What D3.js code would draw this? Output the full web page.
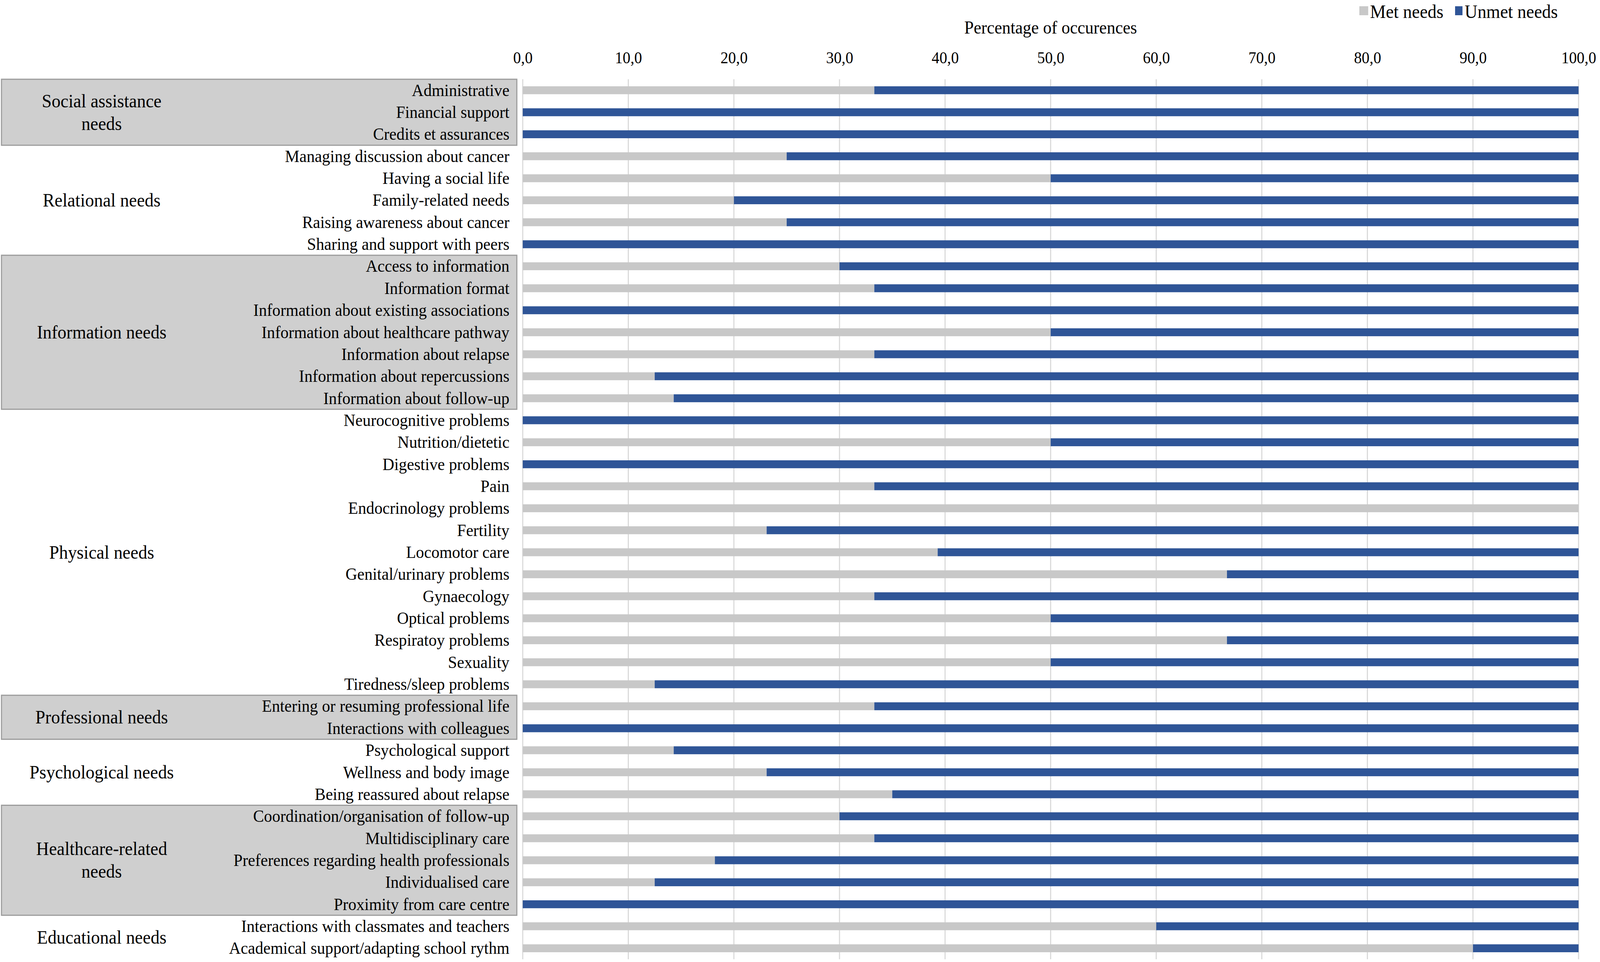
<!DOCTYPE html>
<html>
<head>
<meta charset="utf-8">
<script src="https://cdn.jsdelivr.net/npm/d3@7"></script>
<style>
  html, body { margin: 0; padding: 0; background: #fff; overflow: hidden; }
  #canvas { display: block; width: 100vw; height: 100vh; }
  svg text { font-family: "Liberation Serif", "Times New Roman", serif; fill: #000; }
</style>
</head>
<body>
<svg id="canvas" viewBox="0 0 4328 2464" preserveAspectRatio="none"></svg>
<script>
// rows, top to bottom
const needs = [
  "Administrative", "Financial support", "Credits et assurances",
  "Managing discussion about cancer", "Having a social life", "Family-related needs",
  "Raising awareness about cancer", "Sharing and support with peers",
  "Access to information", "Information format", "Information about existing associations",
  "Information about healthcare pathway", "Information about relapse",
  "Information about repercussions", "Information about follow-up",
  "Neurocognitive problems", "Nutrition/dietetic", "Digestive problems", "Pain",
  "Endocrinology problems", "Fertility", "Locomotor care", "Genital/urinary problems",
  "Gynaecology", "Optical problems", "Respiratoy problems", "Sexuality",
  "Tiredness/sleep problems",
  "Entering or resuming professional life", "Interactions with colleagues",
  "Psychological support", "Wellness and body image", "Being reassured about relapse",
  "Coordination/organisation of follow-up", "Multidisciplinary care",
  "Preferences regarding health professionals", "Individualised care",
  "Proximity from care centre",
  "Interactions with classmates and teachers", "Academical support/adapting school rythm"
];

const metNeeds = [
  33.3, 0, 0,
  25.0, 50.0, 20.0, 25.0, 0,
  30.0, 33.3, 0, 50.0, 33.3, 12.5, 14.3,
  0, 50.0, 0, 33.3, 100, 23.1, 39.3, 66.7, 33.3, 50.0, 66.7, 50.0, 12.5,
  33.3, 0,
  14.3, 23.1, 35.0,
  30.0, 33.3, 18.2, 12.5, 0,
  60.0, 90.0
];

const unmetNeeds = [
  66.7, 100, 100,
  75.0, 50.0, 80.0, 75.0, 100,
  70.0, 66.7, 100, 50.0, 66.7, 87.5, 85.7,
  100, 50.0, 100, 66.7, 0, 76.9, 60.7, 33.3, 66.7, 50.0, 33.3, 50.0, 87.5,
  66.7, 100,
  85.7, 76.9, 65.0,
  70.0, 66.7, 81.8, 87.5, 100,
  40.0, 10.0
];

const groupNames = [
  ["Social assistance", "needs"], ["Relational needs"], ["Information needs"],
  ["Physical needs"], ["Professional needs"], ["Psychological needs"],
  ["Healthcare-related", "needs"], ["Educational needs"]
];
const groupSizes = [3, 5, 7, 13, 2, 3, 5, 2];
const groupShaded = [true, false, true, false, true, false, true, false];

const xTicks = [0, 10, 20, 30, 40, 50, 60, 70, 80, 90, 100];
const seriesNames = ["Met needs", "Unmet needs"];
const colors = ["#c8c8c8", "#2f5597"];

const svg = d3.select("#canvas");
const plotTop = 203, plotBottom = 2457;

const x = d3.scaleLinear().domain([0, 100]).range([1414, 4270]);
const y = d3.scaleBand().domain(needs).range([plotTop, plotBottom])
  .paddingInner(0.64).paddingOuter(0.32);
const step = y.step();

// group boxes and names
let start = 0;
const groups = groupSizes.map((n, i) => {
  const g = {name: groupNames[i], start: start, end: start + n, shaded: groupShaded[i]};
  start += n;
  return g;
});

svg.append("g").selectAll("rect")
  .data(groups.filter(g => g.shaded))
  .join("rect")
  .attr("x", 4)
  .attr("y", d => plotTop + d.start * step)
  .attr("width", 1394)
  .attr("height", d => (d.end - d.start) * step)
  .attr("fill", "#cfcfcf")
  .attr("stroke", "#9c9c9c")
  .attr("stroke-width", 3);

const glab = svg.append("g").selectAll("text")
  .data(groups)
  .join("text")
  .attr("x", 275)
  .attr("y", d => plotTop + (d.start + d.end) / 2 * step)
  .attr("text-anchor", "middle")
  .style("font-size", "48px");
glab.selectAll("tspan")
  .data(d => d.name.map((t, k) => ({t: t, k: k, n: d.name.length})))
  .join("tspan")
  .attr("x", 275)
  .attr("dy", d => d.k === 0 ? ((-(d.n - 1) * 29) + 16) + "px" : "58px")
  .text(d => d.t);

// gridlines
svg.append("g").selectAll("line")
  .data(xTicks)
  .join("line")
  .attr("x1", d => x(d)).attr("x2", d => x(d))
  .attr("y1", plotTop).attr("y2", plotBottom)
  .attr("stroke", "#d9d9d9")
  .attr("stroke-width", 3);

// top axis
const axis = svg.append("g")
  .attr("transform", "translate(0,170)")
  .call(d3.axisTop(x).tickValues(xTicks).tickSize(0).tickPadding(8)
    .tickFormat(d => d.toFixed(1).replace(".", ",")));
axis.select(".domain").remove();
axis.selectAll("text")
  .style("font-family", "Liberation Serif")
  .style("font-size", "42px")
  .attr("fill", "#000");

svg.append("text")
  .attr("x", (x(0) + x(100)) / 2)
  .attr("y", 86)
  .attr("text-anchor", "middle")
  .style("font-size", "46px")
  .text("Percentage of occurences");

// bars
const rows = needs.map((n, i) => ({need: n, met: metNeeds[i], unmet: unmetNeeds[i]}));
const stack = d3.stack().keys(["met", "unmet"])(rows);

svg.append("g").selectAll("g")
  .data(stack)
  .join("g")
  .attr("fill", (d, i) => colors[i])
  .selectAll("rect")
  .data(d => d)
  .join("rect")
  .attr("x", d => x(d[0]))
  .attr("y", d => y(d.data.need))
  .attr("width", d => x(d[1]) - x(d[0]))
  .attr("height", y.bandwidth());

// row labels
svg.append("g").selectAll("text")
  .data(needs)
  .join("text")
  .attr("x", 1378)
  .attr("y", d => y(d) + y.bandwidth() / 2)
  .attr("dy", "0.33em")
  .attr("text-anchor", "end")
  .style("font-size", "44px")
  .text(d => d);

// legend
const legendX = [3677, 3936];
const leg = svg.append("g").selectAll("g")
  .data(seriesNames)
  .join("g")
  .attr("transform", (d, i) => `translate(${legendX[i]},0)`);
leg.append("rect")
  .attr("x", 0).attr("y", 16)
  .attr("width", (d, i) => i === 0 ? 24 : 20).attr("height", 23)
  .attr("fill", (d, i) => colors[i]);
leg.append("text")
  .attr("x", (d, i) => i === 0 ? 29 : 26)
  .attr("y", 46)
  .style("font-size", "48px")
  .text(d => d);
</script>
</body>
</html>
